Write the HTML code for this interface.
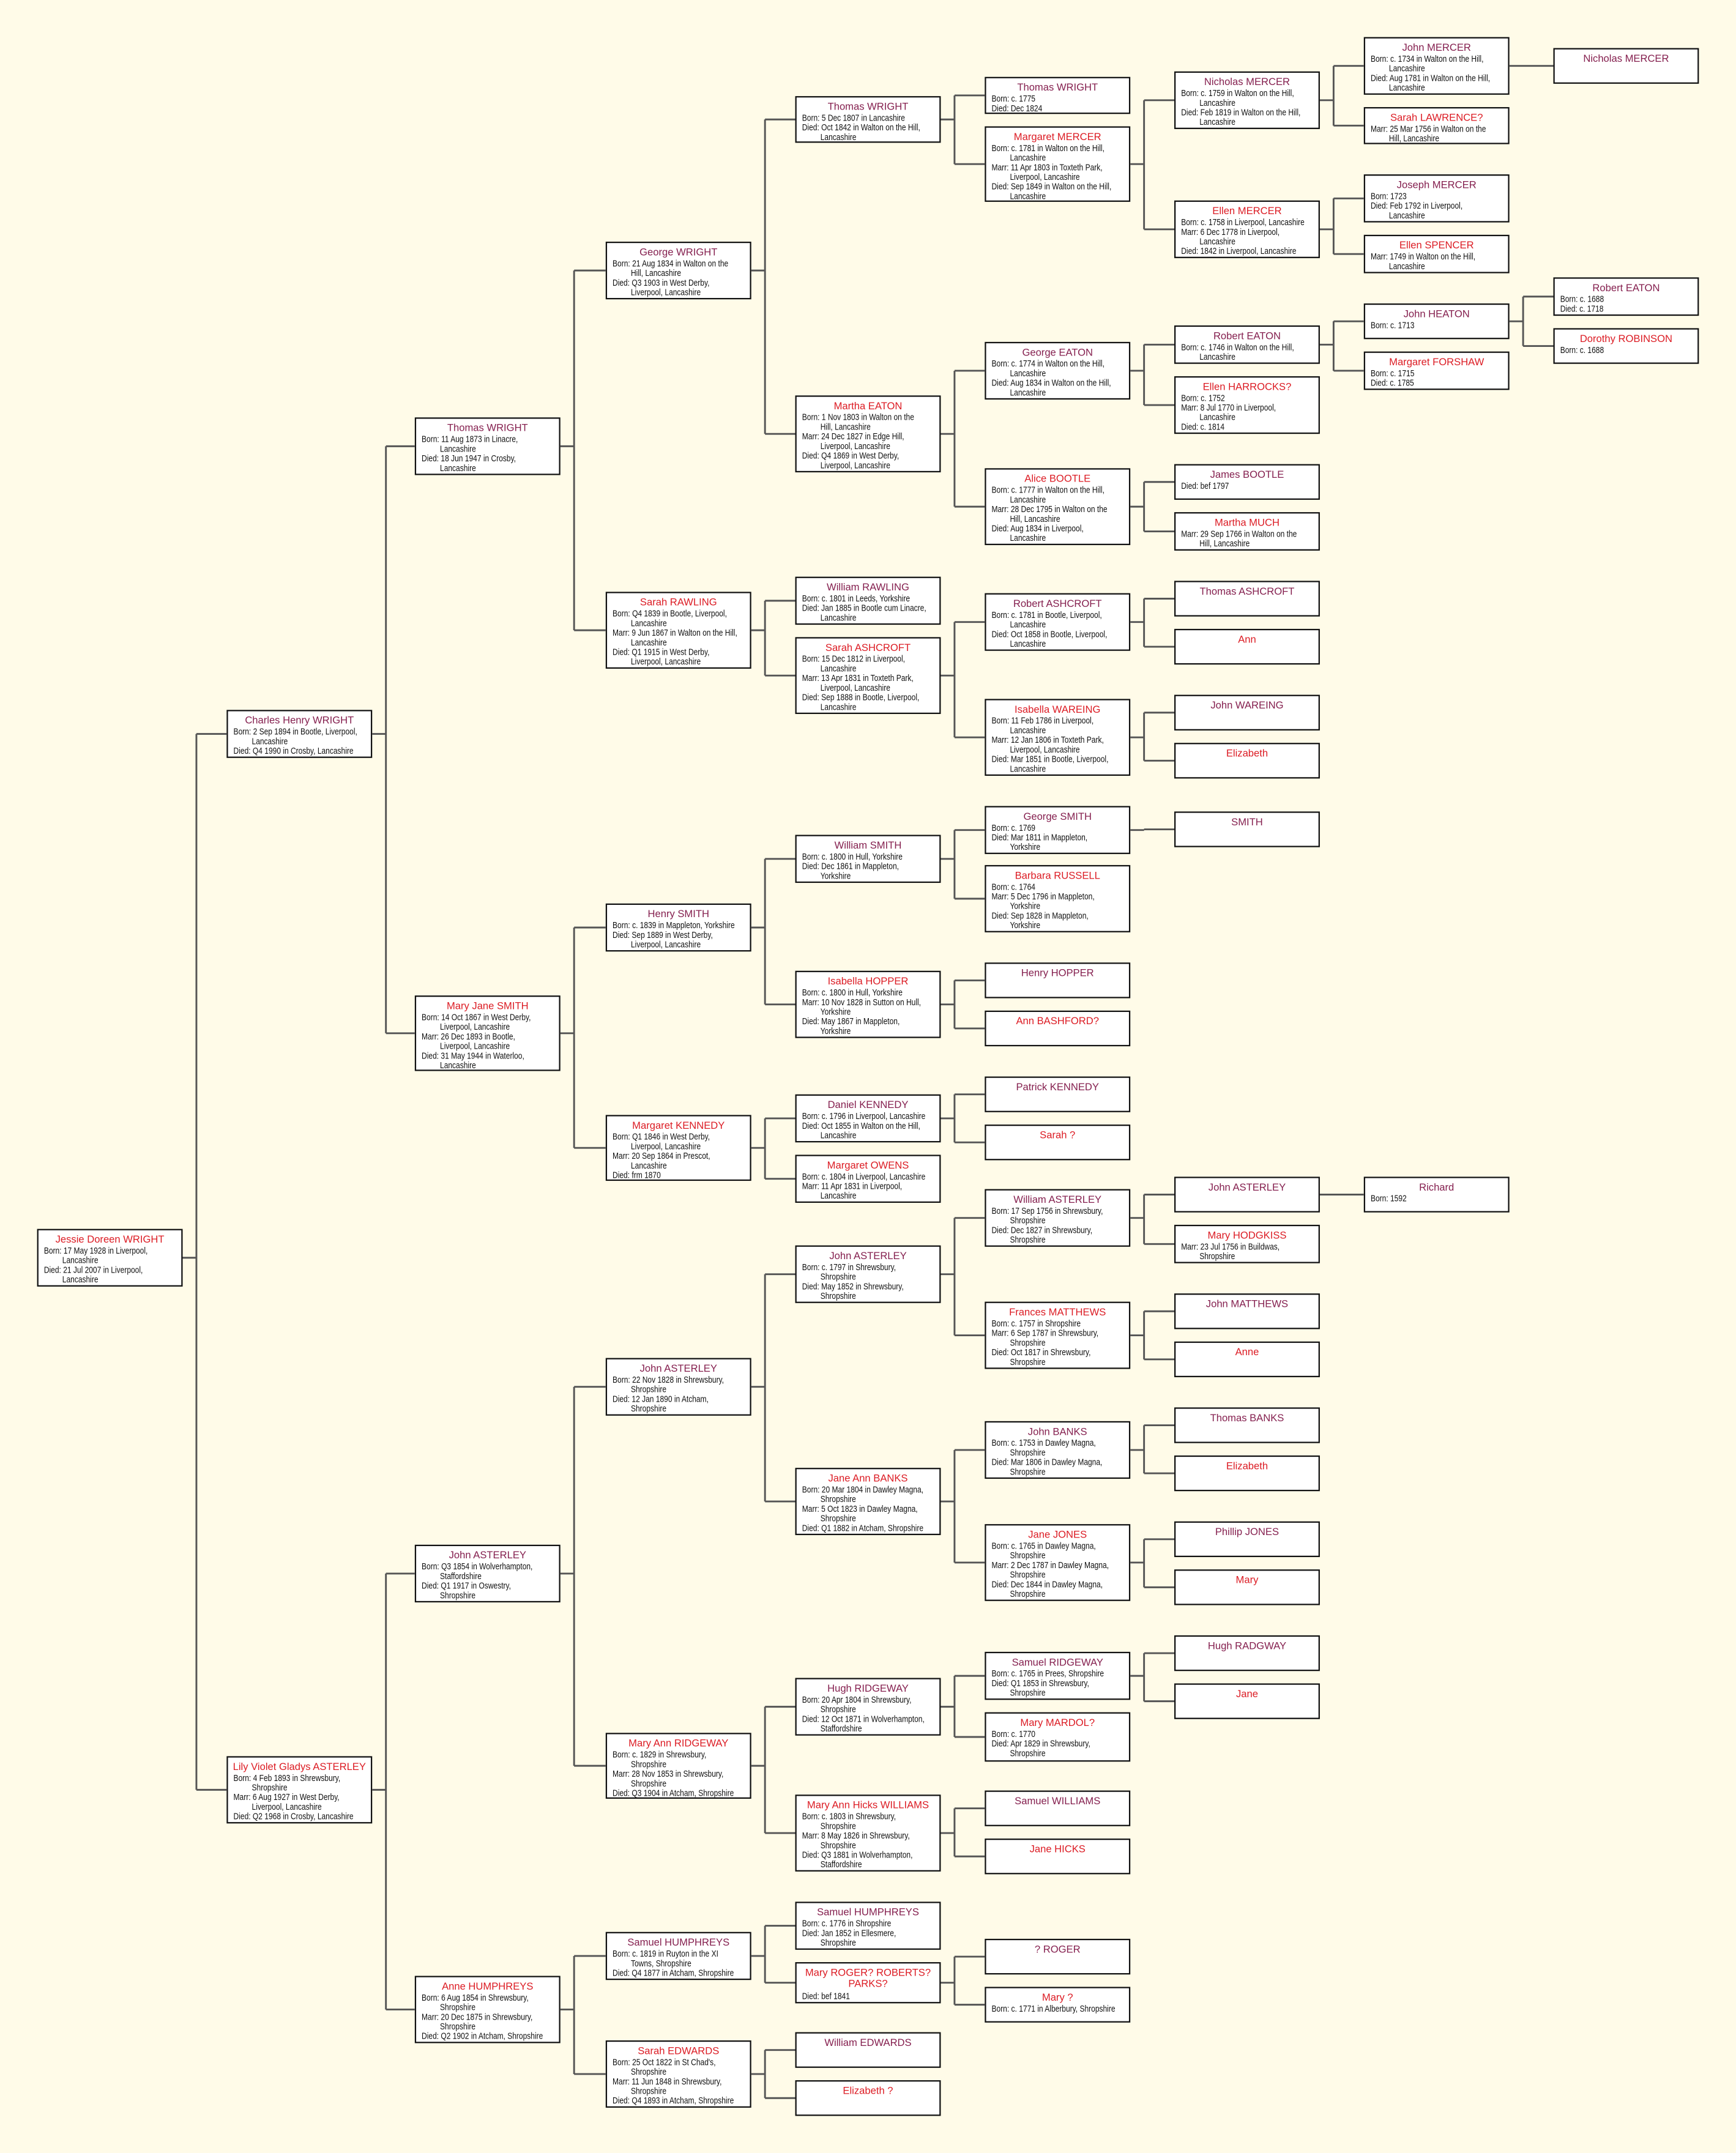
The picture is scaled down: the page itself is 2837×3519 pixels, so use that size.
<!DOCTYPE html>
<html><head><meta charset="utf-8"><style>
html,body{margin:0;padding:0;background:#fffbe8;}
#w{position:relative;width:1264px;height:1568px;transform:scale(2.24446,2.24426);transform-origin:0 0;background:#fffbe8;}
svg{position:absolute;left:0;top:0;}
.b{position:absolute;width:106px;box-sizing:border-box;background:#fff;border:0.45px solid #111;padding:1.6px 1px 0 4.3px;overflow:hidden;font-family:"Liberation Sans",sans-serif;font-size:6.7px;line-height:7px;color:#111;white-space:nowrap;}
.b p{margin:0;transform:scaleX(0.8);transform-origin:0 0;}
.b .n{font-family:"Liberation Sans",sans-serif;font-size:7.4px;line-height:10px;text-align:center;margin-left:-3.3px;white-space:normal;transform:none;}
.m .n{color:#85204f}.f .n{color:#dc1c24}
.b .c{padding-left:16.7px;}
.k0{left:27px}.k1{left:165px}.k2{left:302px}.k3{left:441px}.k4{left:579px}.k5{left:717px}.k6{left:855px}.k7{left:993px}.k8{left:1131px}
</style></head><body><div id="w">
<svg id="s" width="1264" height="1568"></svg>

<div class="b f k0" id="jdw" style="top:895px;height:42px"><p class="n">Jessie Doreen WRIGHT</p><p>Born: 17 May 1928 in Liverpool,</p><p class="c">Lancashire</p><p>Died: 21 Jul 2007 in Liverpool,</p><p class="c">Lancashire</p></div>

<div class="b m k1" id="chw" style="top:517px;height:35px"><p class="n">Charles Henry WRIGHT</p><p>Born: 2 Sep 1894 in Bootle, Liverpool,</p><p class="c">Lancashire</p><p>Died: Q4 1990 in Crosby, Lancashire</p></div>
<div class="b f k1" id="lva" style="top:1279px;height:49px"><p class="n">Lily Violet Gladys ASTERLEY</p><p>Born: 4 Feb 1893 in Shrewsbury,</p><p class="c">Shropshire</p><p>Marr: 6 Aug 1927 in West Derby,</p><p class="c">Liverpool, Lancashire</p><p>Died: Q2 1968 in Crosby, Lancashire</p></div>

<div class="b m k2" id="tw2" style="top:304px;height:42px"><p class="n">Thomas WRIGHT</p><p>Born: 11 Aug 1873 in Linacre,</p><p class="c">Lancashire</p><p>Died: 18 Jun 1947 in Crosby,</p><p class="c">Lancashire</p></div>
<div class="b f k2" id="mjs" style="top:725px;height:55px"><p class="n">Mary Jane SMITH</p><p>Born: 14 Oct 1867 in West Derby,</p><p class="c">Liverpool, Lancashire</p><p>Marr: 26 Dec 1893 in Bootle,</p><p class="c">Liverpool, Lancashire</p><p>Died: 31 May 1944 in Waterloo,</p><p class="c">Lancashire</p></div>
<div class="b m k2" id="ja2" style="top:1125px;height:42px"><p class="n">John ASTERLEY</p><p>Born: Q3 1854 in Wolverhampton,</p><p class="c">Staffordshire</p><p>Died: Q1 1917 in Oswestry,</p><p class="c">Shropshire</p></div>
<div class="b f k2" id="ah2" style="top:1439px;height:49px"><p class="n">Anne HUMPHREYS</p><p>Born: 6 Aug 1854 in Shrewsbury,</p><p class="c">Shropshire</p><p>Marr: 20 Dec 1875 in Shrewsbury,</p><p class="c">Shropshire</p><p>Died: Q2 1902 in Atcham, Shropshire</p></div>

<div class="b m k3" id="gw3" style="top:176px;height:42px"><p class="n">George WRIGHT</p><p>Born: 21 Aug 1834 in Walton on the</p><p class="c">Hill, Lancashire</p><p>Died: Q3 1903 in West Derby,</p><p class="c">Liverpool, Lancashire</p></div>
<div class="b f k3" id="sr3" style="top:431px;height:56px"><p class="n">Sarah RAWLING</p><p>Born: Q4 1839 in Bootle, Liverpool,</p><p class="c">Lancashire</p><p>Marr: 9 Jun 1867 in Walton on the Hill,</p><p class="c">Lancashire</p><p>Died: Q1 1915 in West Derby,</p><p class="c">Liverpool, Lancashire</p></div>
<div class="b m k3" id="hs3" style="top:658px;height:35px"><p class="n">Henry SMITH</p><p>Born: c. 1839 in Mappleton, Yorkshire</p><p>Died: Sep 1889 in West Derby,</p><p class="c">Liverpool, Lancashire</p></div>
<div class="b f k3" id="mk3" style="top:812px;height:48px"><p class="n">Margaret KENNEDY</p><p>Born: Q1 1846 in West Derby,</p><p class="c">Liverpool, Lancashire</p><p>Marr: 20 Sep 1864 in Prescot,</p><p class="c">Lancashire</p><p>Died: frm 1870</p></div>
<div class="b m k3" id="ja3" style="top:989px;height:42px"><p class="n">John ASTERLEY</p><p>Born: 22 Nov 1828 in Shrewsbury,</p><p class="c">Shropshire</p><p>Died: 12 Jan 1890 in Atcham,</p><p class="c">Shropshire</p></div>
<div class="b f k3" id="mr3" style="top:1262px;height:48px"><p class="n">Mary Ann RIDGEWAY</p><p>Born: c. 1829 in Shrewsbury,</p><p class="c">Shropshire</p><p>Marr: 28 Nov 1853 in Shrewsbury,</p><p class="c">Shropshire</p><p>Died: Q3 1904 in Atcham, Shropshire</p></div>
<div class="b m k3" id="sh3" style="top:1407px;height:35px"><p class="n">Samuel HUMPHREYS</p><p>Born: c. 1819 in Ruyton in the XI</p><p class="c">Towns, Shropshire</p><p>Died: Q4 1877 in Atcham, Shropshire</p></div>
<div class="b f k3" id="se3" style="top:1486px;height:49px"><p class="n">Sarah EDWARDS</p><p>Born: 25 Oct 1822 in St Chad's,</p><p class="c">Shropshire</p><p>Marr: 11 Jun 1848 in Shrewsbury,</p><p class="c">Shropshire</p><p>Died: Q4 1893 in Atcham, Shropshire</p></div>

<div class="b m k4" id="tw4" style="top:70px;height:34px"><p class="n">Thomas WRIGHT</p><p>Born: 5 Dec 1807 in Lancashire</p><p>Died: Oct 1842 in Walton on the Hill,</p><p class="c">Lancashire</p></div>
<div class="b f k4" id="me4" style="top:288px;height:56px"><p class="n">Martha EATON</p><p>Born: 1 Nov 1803 in Walton on the</p><p class="c">Hill, Lancashire</p><p>Marr: 24 Dec 1827 in Edge Hill,</p><p class="c">Liverpool, Lancashire</p><p>Died: Q4 1869 in West Derby,</p><p class="c">Liverpool, Lancashire</p></div>
<div class="b m k4" id="wr4" style="top:420px;height:35px"><p class="n">William RAWLING</p><p>Born: c. 1801 in Leeds, Yorkshire</p><p>Died: Jan 1885 in Bootle cum Linacre,</p><p class="c">Lancashire</p></div>
<div class="b f k4" id="sa4" style="top:464px;height:56px"><p class="n">Sarah ASHCROFT</p><p>Born: 15 Dec 1812 in Liverpool,</p><p class="c">Lancashire</p><p>Marr: 13 Apr 1831 in Toxteth Park,</p><p class="c">Liverpool, Lancashire</p><p>Died: Sep 1888 in Bootle, Liverpool,</p><p class="c">Lancashire</p></div>
<div class="b m k4" id="ws4" style="top:608px;height:35px"><p class="n">William SMITH</p><p>Born: c. 1800 in Hull, Yorkshire</p><p>Died: Dec 1861 in Mappleton,</p><p class="c">Yorkshire</p></div>
<div class="b f k4" id="ih4" style="top:707px;height:49px"><p class="n">Isabella HOPPER</p><p>Born: c. 1800 in Hull, Yorkshire</p><p>Marr: 10 Nov 1828 in Sutton on Hull,</p><p class="c">Yorkshire</p><p>Died: May 1867 in Mappleton,</p><p class="c">Yorkshire</p></div>
<div class="b m k4" id="dk4" style="top:797px;height:35px"><p class="n">Daniel KENNEDY</p><p>Born: c. 1796 in Liverpool, Lancashire</p><p>Died: Oct 1855 in Walton on the Hill,</p><p class="c">Lancashire</p></div>
<div class="b f k4" id="mo4" style="top:841px;height:35px"><p class="n">Margaret OWENS</p><p>Born: c. 1804 in Liverpool, Lancashire</p><p>Marr: 11 Apr 1831 in Liverpool,</p><p class="c">Lancashire</p></div>
<div class="b m k4" id="ja4" style="top:907px;height:42px"><p class="n">John ASTERLEY</p><p>Born: c. 1797 in Shrewsbury,</p><p class="c">Shropshire</p><p>Died: May 1852 in Shrewsbury,</p><p class="c">Shropshire</p></div>
<div class="b f k4" id="jb4" style="top:1069px;height:49px"><p class="n">Jane Ann BANKS</p><p>Born: 20 Mar 1804 in Dawley Magna,</p><p class="c">Shropshire</p><p>Marr: 5 Oct 1823 in Dawley Magna,</p><p class="c">Shropshire</p><p>Died: Q1 1882 in Atcham, Shropshire</p></div>
<div class="b m k4" id="hr4" style="top:1222px;height:42px"><p class="n">Hugh RIDGEWAY</p><p>Born: 20 Apr 1804 in Shrewsbury,</p><p class="c">Shropshire</p><p>Died: 12 Oct 1871 in Wolverhampton,</p><p class="c">Staffordshire</p></div>
<div class="b f k4" id="mw4" style="top:1307px;height:56px"><p class="n">Mary Ann Hicks WILLIAMS</p><p>Born: c. 1803 in Shrewsbury,</p><p class="c">Shropshire</p><p>Marr: 8 May 1826 in Shrewsbury,</p><p class="c">Shropshire</p><p>Died: Q3 1881 in Wolverhampton,</p><p class="c">Staffordshire</p></div>
<div class="b m k4" id="sh4" style="top:1385px;height:35px"><p class="n">Samuel HUMPHREYS</p><p>Born: c. 1776 in Shropshire</p><p>Died: Jan 1852 in Ellesmere,</p><p class="c">Shropshire</p></div>
<div class="b f k4" id="mr4" style="top:1429px;height:30px"><p class="n" style="line-height:8.5px;padding-top:1px">Mary ROGER? ROBERTS?<br>PARKS?</p><p style="margin-top:1px">Died: bef 1841</p></div>
<div class="b m k4" id="we4" style="top:1480px;height:26px"><p class="n">William EDWARDS</p></div>
<div class="b f k4" id="el4" style="top:1515px;height:26px"><p class="n">Elizabeth ?</p></div>

<div class="b m k5" id="tw5" style="top:56px;height:27px"><p class="n">Thomas WRIGHT</p><p>Born: c. 1775</p><p>Died: Dec 1824</p></div>
<div class="b f k5" id="mm5" style="top:92px;height:55px"><p class="n">Margaret MERCER</p><p>Born: c. 1781 in Walton on the Hill,</p><p class="c">Lancashire</p><p>Marr: 11 Apr 1803 in Toxteth Park,</p><p class="c">Liverpool, Lancashire</p><p>Died: Sep 1849 in Walton on the Hill,</p><p class="c">Lancashire</p></div>
<div class="b m k5" id="ge5" style="top:249px;height:42px"><p class="n">George EATON</p><p>Born: c. 1774 in Walton on the Hill,</p><p class="c">Lancashire</p><p>Died: Aug 1834 in Walton on the Hill,</p><p class="c">Lancashire</p></div>
<div class="b f k5" id="ab5" style="top:341px;height:56px"><p class="n">Alice BOOTLE</p><p>Born: c. 1777 in Walton on the Hill,</p><p class="c">Lancashire</p><p>Marr: 28 Dec 1795 in Walton on the</p><p class="c">Hill, Lancashire</p><p>Died: Aug 1834 in Liverpool,</p><p class="c">Lancashire</p></div>
<div class="b m k5" id="ra5" style="top:432px;height:42px"><p class="n">Robert ASHCROFT</p><p>Born: c. 1781 in Bootle, Liverpool,</p><p class="c">Lancashire</p><p>Died: Oct 1858 in Bootle, Liverpool,</p><p class="c">Lancashire</p></div>
<div class="b f k5" id="iw5" style="top:509px;height:56px"><p class="n">Isabella WAREING</p><p>Born: 11 Feb 1786 in Liverpool,</p><p class="c">Lancashire</p><p>Marr: 12 Jan 1806 in Toxteth Park,</p><p class="c">Liverpool, Lancashire</p><p>Died: Mar 1851 in Bootle, Liverpool,</p><p class="c">Lancashire</p></div>
<div class="b m k5" id="gs5" style="top:587px;height:35px"><p class="n">George SMITH</p><p>Born: c. 1769</p><p>Died: Mar 1811 in Mappleton,</p><p class="c">Yorkshire</p></div>
<div class="b f k5" id="br5" style="top:630px;height:49px"><p class="n">Barbara RUSSELL</p><p>Born: c. 1764</p><p>Marr: 5 Dec 1796 in Mappleton,</p><p class="c">Yorkshire</p><p>Died: Sep 1828 in Mappleton,</p><p class="c">Yorkshire</p></div>
<div class="b m k5" id="hh5" style="top:701px;height:26px"><p class="n">Henry HOPPER</p></div>
<div class="b f k5" id="ab5b" style="top:736px;height:26px"><p class="n">Ann BASHFORD?</p></div>
<div class="b m k5" id="pk5" style="top:784px;height:26px"><p class="n">Patrick KENNEDY</p></div>
<div class="b f k5" id="sk5" style="top:819px;height:26px"><p class="n">Sarah ?</p></div>
<div class="b m k5" id="wa5" style="top:866px;height:42px"><p class="n">William ASTERLEY</p><p>Born: 17 Sep 1756 in Shrewsbury,</p><p class="c">Shropshire</p><p>Died: Dec 1827 in Shrewsbury,</p><p class="c">Shropshire</p></div>
<div class="b f k5" id="fm5" style="top:948px;height:49px"><p class="n">Frances MATTHEWS</p><p>Born: c. 1757 in Shropshire</p><p>Marr: 6 Sep 1787 in Shrewsbury,</p><p class="c">Shropshire</p><p>Died: Oct 1817 in Shrewsbury,</p><p class="c">Shropshire</p></div>
<div class="b m k5" id="jb5" style="top:1035px;height:42px"><p class="n">John BANKS</p><p>Born: c. 1753 in Dawley Magna,</p><p class="c">Shropshire</p><p>Died: Mar 1806 in Dawley Magna,</p><p class="c">Shropshire</p></div>
<div class="b f k5" id="jj5" style="top:1110px;height:56px"><p class="n">Jane JONES</p><p>Born: c. 1765 in Dawley Magna,</p><p class="c">Shropshire</p><p>Marr: 2 Dec 1787 in Dawley Magna,</p><p class="c">Shropshire</p><p>Died: Dec 1844 in Dawley Magna,</p><p class="c">Shropshire</p></div>
<div class="b m k5" id="sr5" style="top:1203px;height:35px"><p class="n">Samuel RIDGEWAY</p><p>Born: c. 1765 in Prees, Shropshire</p><p>Died: Q1 1853 in Shrewsbury,</p><p class="c">Shropshire</p></div>
<div class="b f k5" id="mm5b" style="top:1247px;height:36px"><p class="n">Mary MARDOL?</p><p>Born: c. 1770</p><p>Died: Apr 1829 in Shrewsbury,</p><p class="c">Shropshire</p></div>
<div class="b m k5" id="sw5" style="top:1304px;height:26px"><p class="n">Samuel WILLIAMS</p></div>
<div class="b f k5" id="jh5" style="top:1339px;height:26px"><p class="n">Jane HICKS</p></div>
<div class="b m k5" id="rg5" style="top:1412px;height:26px"><p class="n">? ROGER</p></div>
<div class="b f k5" id="mq5" style="top:1447px;height:26px"><p class="n">Mary ?</p><p>Born: c. 1771 in Alberbury, Shropshire</p></div>

<div class="b m k6" id="nm6" style="top:52px;height:42px"><p class="n">Nicholas MERCER</p><p>Born: c. 1759 in Walton on the Hill,</p><p class="c">Lancashire</p><p>Died: Feb 1819 in Walton on the Hill,</p><p class="c">Lancashire</p></div>
<div class="b f k6" id="em6" style="top:146px;height:42px"><p class="n">Ellen MERCER</p><p>Born: c. 1758 in Liverpool, Lancashire</p><p>Marr: 6 Dec 1778 in Liverpool,</p><p class="c">Lancashire</p><p>Died: 1842 in Liverpool, Lancashire</p></div>
<div class="b m k6" id="re6" style="top:237px;height:28px"><p class="n">Robert EATON</p><p>Born: c. 1746 in Walton on the Hill,</p><p class="c">Lancashire</p></div>
<div class="b f k6" id="eh6" style="top:274px;height:42px"><p class="n">Ellen HARROCKS?</p><p>Born: c. 1752</p><p>Marr: 8 Jul 1770 in Liverpool,</p><p class="c">Lancashire</p><p>Died: c. 1814</p></div>
<div class="b m k6" id="jb6" style="top:338px;height:26px"><p class="n">James BOOTLE</p><p>Died: bef 1797</p></div>
<div class="b f k6" id="mu6" style="top:373px;height:28px"><p class="n">Martha MUCH</p><p>Marr: 29 Sep 1766 in Walton on the</p><p class="c">Hill, Lancashire</p></div>
<div class="b m k6" id="ta6" style="top:423px;height:26px"><p class="n">Thomas ASHCROFT</p></div>
<div class="b f k6" id="an6" style="top:458px;height:26px"><p class="n">Ann</p></div>
<div class="b m k6" id="jw6" style="top:506px;height:26px"><p class="n">John WAREING</p></div>
<div class="b f k6" id="el6" style="top:541px;height:26px"><p class="n">Elizabeth</p></div>
<div class="b m k6" id="sm6" style="top:591px;height:26px"><p class="n">SMITH</p></div>
<div class="b m k6" id="ja6" style="top:857px;height:26px"><p class="n">John ASTERLEY</p></div>
<div class="b f k6" id="mh6" style="top:892px;height:28px"><p class="n">Mary HODGKISS</p><p>Marr: 23 Jul 1756 in Buildwas,</p><p class="c">Shropshire</p></div>
<div class="b m k6" id="jm6" style="top:942px;height:26px"><p class="n">John MATTHEWS</p></div>
<div class="b f k6" id="ae6" style="top:977px;height:26px"><p class="n">Anne</p></div>
<div class="b m k6" id="tb6" style="top:1025px;height:26px"><p class="n">Thomas BANKS</p></div>
<div class="b f k6" id="eb6" style="top:1060px;height:26px"><p class="n">Elizabeth</p></div>
<div class="b m k6" id="pj6" style="top:1108px;height:26px"><p class="n">Phillip JONES</p></div>
<div class="b f k6" id="my6" style="top:1143px;height:26px"><p class="n">Mary</p></div>
<div class="b m k6" id="hr6" style="top:1191px;height:26px"><p class="n">Hugh RADGWAY</p></div>
<div class="b f k6" id="je6" style="top:1226px;height:26px"><p class="n">Jane</p></div>

<div class="b m k7" id="jm7" style="top:27px;height:42px"><p class="n">John MERCER</p><p>Born: c. 1734 in Walton on the Hill,</p><p class="c">Lancashire</p><p>Died: Aug 1781 in Walton on the Hill,</p><p class="c">Lancashire</p></div>
<div class="b f k7" id="sl7" style="top:78px;height:27px"><p class="n">Sarah LAWRENCE?</p><p>Marr: 25 Mar 1756 in Walton on the</p><p class="c">Hill, Lancashire</p></div>
<div class="b m k7" id="jo7" style="top:127px;height:35px"><p class="n">Joseph MERCER</p><p>Born: 1723</p><p>Died: Feb 1792 in Liverpool,</p><p class="c">Lancashire</p></div>
<div class="b f k7" id="es7" style="top:171px;height:28px"><p class="n">Ellen SPENCER</p><p>Marr: 1749 in Walton on the Hill,</p><p class="c">Lancashire</p></div>
<div class="b m k7" id="jh7" style="top:221px;height:26px"><p class="n">John HEATON</p><p>Born: c. 1713</p></div>
<div class="b f k7" id="mf7" style="top:256px;height:28px"><p class="n">Margaret FORSHAW</p><p>Born: c. 1715</p><p>Died: c. 1785</p></div>
<div class="b m k7" id="ri7" style="top:857px;height:26px"><p class="n">Richard</p><p>Born: 1592</p></div>

<div class="b m k8" id="nm8" style="top:35px;height:26px"><p class="n">Nicholas MERCER</p></div>
<div class="b m k8" id="re8" style="top:202px;height:28px"><p class="n">Robert EATON</p><p>Born: c. 1688</p><p>Died: c. 1718</p></div>
<div class="b f k8" id="dr8" style="top:239px;height:26px"><p class="n">Dorothy ROBINSON</p><p>Born: c. 1688</p></div>
</div>
<script>
var P={jdw:["chw","lva"],chw:["tw2","mjs"],lva:["ja2","ah2"],tw2:["gw3","sr3"],mjs:["hs3","mk3"],ja2:["ja3","mr3"],ah2:["sh3","se3"],
gw3:["tw4","me4"],sr3:["wr4","sa4"],hs3:["ws4","ih4"],mk3:["dk4","mo4"],ja3:["ja4","jb4"],mr3:["hr4","mw4"],sh3:["sh4","mr4"],se3:["we4","el4"],
tw4:["tw5","mm5"],me4:["ge5","ab5"],sa4:["ra5","iw5"],ws4:["gs5","br5"],ih4:["hh5","ab5b"],dk4:["pk5","sk5"],ja4:["wa5","fm5"],jb4:["jb5","jj5"],hr4:["sr5","mm5b"],mw4:["sw5","jh5"],mr4:["rg5","mq5"],
mm5:["nm6","em6"],ge5:["re6","eh6"],ab5:["jb6","mu6"],ra5:["ta6","an6"],iw5:["jw6","el6"],gs5:["sm6"],wa5:["ja6","mh6"],fm5:["jm6","ae6"],jb5:["tb6","eb6"],jj5:["pj6","my6"],sr5:["hr6","je6"],
nm6:["jm7","sl7"],em6:["jo7","es7"],re6:["jh7","mf7"],ja6:["ri7"],jm7:["nm8"],jh7:["re8","dr8"]};
var s=document.getElementById('s'),d="";
function g(id){var e=document.getElementById(id);var t=parseFloat(e.style.top),h=parseFloat(e.style.height);return {l:e.offsetLeft,r:e.offsetLeft+106,m:t+h/2};}
for(var k in P){var c=g(k),x=c.r+10,ps=P[k].map(g);
 d+="M"+c.r+" "+c.m+"H"+x;
 var ys=ps.map(function(p){return p.m;}).concat([c.m]);
 d+="M"+x+" "+Math.min.apply(null,ys)+"V"+Math.max.apply(null,ys);
 ps.forEach(function(p){d+="M"+x+" "+p.m+"H"+p.l;});}
s.innerHTML='<path d="'+d+'" stroke="#555" stroke-width="1.3" fill="none"/>';
</script>
</body></html>
